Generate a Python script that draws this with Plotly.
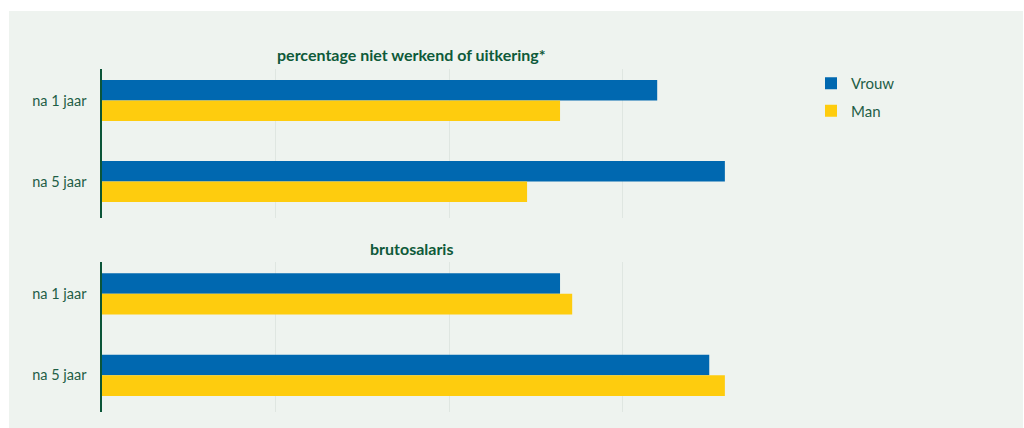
import plotly.graph_objects as go

categories = ["na 1 jaar", "na 5 jaar"]
series_names = ["Vrouw", "Man"]
colors = ["#0068B0", "#FECC0E"]

# percentage niet werkend of uitkering* (relative units, grid step = 10)
pct_vrouw = [32.0, 35.9]
pct_man = [26.4, 24.5]
# brutosalaris (relative units)
sal_vrouw = [26.4, 35.0]
sal_man = [27.1, 35.9]

panel_titles = ["percentage niet werkend of uitkering*", "brutosalaris"]

W, H = 1024, 428
BG = "#EEF3EF"
TXT = "#1E5E46"
AX = "#0B5538"
FONT = "Lato, Carlito, 'Open Sans', sans-serif"

def px_x(x):
    return x / W

def px_y(y):
    return (H - y) / H

fig = go.Figure()

panels = [(pct_vrouw, pct_man, "x", "y"), (sal_vrouw, sal_man, "x2", "y2")]
for i, (v, m, xa, ya) in enumerate(panels):
    for name, vals, col in zip(series_names, [v, m], colors):
        fig.add_trace(go.Bar(
            y=categories, x=vals, name=name, orientation="h",
            marker=dict(color=col, line=dict(width=0)),
            xaxis=xa, yaxis=ya, showlegend=(i == 0),
            legendgroup=name, hoverinfo="x+y",
        ))

xdom = [px_x(102), px_x(796)]
xcommon = dict(range=[0, 40], dtick=10, showgrid=True, gridcolor="#DFE6E1",
               gridwidth=1, zeroline=False, showticklabels=False, ticks="",
               showline=False, fixedrange=True, automargin=False, domain=xdom)
ycommon = dict(autorange=False, range=[1.45, -0.39], showline=True, linecolor=AX,
               linewidth=1.5, ticks="", showgrid=False, zeroline=False,
               tickfont=dict(family=FONT, size=14.5, color=TXT), ticksuffix="   ",
               automargin=False, fixedrange=True)

fig.update_layout(
    width=W, height=H,
    margin=dict(l=0, r=0, t=0, b=0),
    paper_bgcolor="white", plot_bgcolor="rgba(0,0,0,0)",
    template="none",
    barmode="group", bargap=0.494, bargroupgap=0,
    font=dict(family=FONT, color=TXT),
    xaxis=dict(**xcommon, anchor="y"),
    xaxis2=dict(**xcommon, anchor="y2"),
    yaxis=dict(**ycommon, domain=[px_y(218), px_y(69)], anchor="x"),
    yaxis2=dict(**ycommon, domain=[px_y(412), px_y(262)], anchor="x2"),
    legend=dict(x=px_x(811), y=px_y(67), xanchor="left", yanchor="top",
                bgcolor="rgba(0,0,0,0)", tracegroupgap=5,
                font=dict(family=FONT, size=15, color=TXT)),
    shapes=[dict(type="rect", xref="paper", yref="paper", layer="below",
                 x0=px_x(9), x1=px_x(1023), y0=0, y1=px_y(11),
                 fillcolor=BG, line=dict(width=0))],
    annotations=[
        dict(text="<b>" + panel_titles[0] + "</b>", xref="paper", yref="paper",
             x=px_x(411), y=px_y(55), showarrow=False, xanchor="center", yanchor="middle",
             font=dict(family=FONT, size=16, color="#0E5A3A")),
        dict(text="<b>" + panel_titles[1] + "</b>", xref="paper", yref="paper",
             x=px_x(411), y=px_y(248), showarrow=False, xanchor="center", yanchor="middle",
             font=dict(family=FONT, size=16, color="#0E5A3A")),
    ],
)

fig.write_html("out.html", config={"displayModeBar": False},
               post_script="document.body.style.margin='0';")
